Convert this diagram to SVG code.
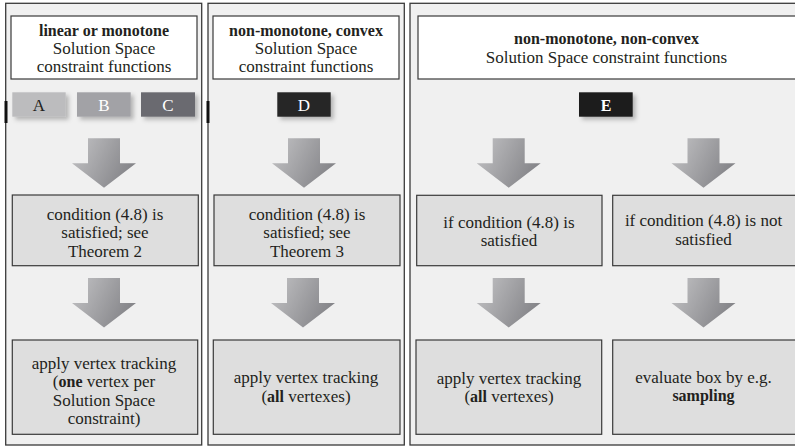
<svg xmlns="http://www.w3.org/2000/svg" width="795" height="448" viewBox="0 0 795 448" font-family="'Liberation Serif', 'Times New Roman', Times, 'DejaVu Serif', 'Noto Serif', serif">
<defs>
<style>
.panel{fill:#f0f0f0;stroke:#3a3a3a;stroke-width:1.3}
.hdr{fill:#ffffff;stroke:#3a3a3a;stroke-width:1.2}
.box{fill:#dedede;stroke:#3a3a3a;stroke-width:1.2}
text{font-size:17px;fill:#231f20;text-anchor:middle}
.b{font-weight:bold;font-size:16px}
.w{fill:#ffffff}
</style>
<linearGradient id="ag" x1="0" y1="0" x2="1" y2="0.4">
<stop offset="0" stop-color="#c4c4c6"/>
<stop offset="1" stop-color="#86868a"/>
</linearGradient>
<filter id="sh" x="-20%" y="-20%" width="150%" height="160%">
<feDropShadow dx="3" dy="3" stdDeviation="2" flood-color="#000" flood-opacity="0.25"/>
</filter>
<path id="arr" d="M-16,0 H16 V25 H32 L0,49.5 L-32,25 H-16 Z" fill="url(#ag)"/>
</defs>

<g id="panels">
<rect class="panel" x="5.7" y="3.3" width="196" height="441.7"/>
<rect class="panel" x="208" y="3.3" width="196.3" height="441.7"/>
<rect class="panel" x="410" y="3.3" width="395" height="441.7"/>
<rect x="4.5" y="101" width="3" height="22" fill="#111"/>
<rect x="206.5" y="101" width="3" height="22" fill="#111"/>
</g>

<g id="hdr1">
<rect class="hdr" x="11" y="16" width="186" height="63"/>
<text x="104" y="36" class="b">linear or monotone</text>
<text x="104" y="54">Solution Space</text>
<text x="104" y="72">constraint functions</text>
</g>
<g id="hdr2">
<rect class="hdr" x="213" y="16" width="186" height="63"/>
<text x="306" y="36" class="b">non-monotone, convex</text>
<text x="306" y="54">Solution Space</text>
<text x="306" y="72">constraint functions</text>
</g>
<g id="hdr3">
<rect class="hdr" x="418" y="16" width="390" height="63"/>
<text x="606.5" y="44" class="b">non-monotone, non-convex</text>
<text x="606.5" y="63">Solution Space constraint functions</text>
</g>

<g id="A"><rect x="12.3" y="92.3" width="53.4" height="24.4" fill="#bcbcbe" filter="url(#sh)"/><text x="39" y="110.5">A</text></g>
<g id="B"><rect x="77" y="92.3" width="53.7" height="24.4" fill="#a2a2a6" filter="url(#sh)"/><text x="104" y="110.5" class="w">B</text></g>
<g id="C"><rect x="141" y="92.3" width="54" height="24.4" fill="#6b6b6f" filter="url(#sh)"/><text x="168" y="110.5" class="w">C</text></g>
<g id="D"><rect x="277.3" y="92.3" width="53.4" height="24.4" fill="#262626" filter="url(#sh)"/><text x="304" y="110.5" class="w">D</text></g>
<g id="E"><rect x="579" y="92.3" width="53.7" height="24.4" fill="#1f1f1f" filter="url(#sh)"/><text x="606" y="110.5" class="w b">E</text></g>

<g id="connectors">
<use href="#arr" x="104" y="138.3"/>
<use href="#arr" x="104" y="278"/>
<use href="#arr" x="304" y="138.3"/>
<use href="#arr" x="303" y="278"/>
<use href="#arr" x="508.7" y="138.3"/>
<use href="#arr" x="703.5" y="138.3"/>
<use href="#arr" x="508.7" y="278"/>
<use href="#arr" x="703.5" y="278"/>
</g>

<g id="cond1">
<rect class="box" x="12.3" y="195" width="186" height="70.7"/>
<text x="105" y="219.5">condition (4.8) is</text>
<text x="105" y="238">satisfied; see</text>
<text x="105" y="256.5">Theorem 2</text>
</g>
<g id="cond2">
<rect class="box" x="214" y="195" width="186" height="70.7"/>
<text x="307" y="219.5">condition (4.8) is</text>
<text x="307" y="238">satisfied; see</text>
<text x="307" y="256.5">Theorem 3</text>
</g>
<g id="cond3a">
<rect class="box" x="416.7" y="195.3" width="185.3" height="70.4"/>
<text x="509" y="227.5">if condition (4.8) is</text>
<text x="509" y="245.5">satisfied</text>
</g>
<g id="cond3b">
<rect class="box" x="612.7" y="195.3" width="190" height="70.4"/>
<text x="703.5" y="225.5">if condition (4.8) is not</text>
<text x="703.5" y="244.5">satisfied</text>
</g>

<g id="res1">
<rect class="box" x="12.3" y="340" width="185.4" height="94.3"/>
<text x="104" y="368.5">apply vertex tracking</text>
<text x="104" y="387">(<tspan class="b">one</tspan> vertex per</text>
<text x="104" y="405.5">Solution Space</text>
<text x="104" y="424">constraint)</text>
</g>
<g id="res2">
<rect class="box" x="213.3" y="340" width="186.7" height="94.3"/>
<text x="306" y="382.5">apply vertex tracking</text>
<text x="306" y="402">(<tspan class="b">all</tspan> vertexes)</text>
</g>
<g id="res3a">
<rect class="box" x="416" y="340" width="185.7" height="94.3"/>
<text x="509" y="383.5">apply vertex tracking</text>
<text x="509" y="402">(<tspan class="b">all</tspan> vertexes)</text>
</g>
<g id="res3b">
<rect class="box" x="612.7" y="340" width="190" height="94.3"/>
<text x="703.5" y="382.5">evaluate box by e.g.</text>
<text x="703.5" y="400.5" class="b">sampling</text>
</g>
</svg>
